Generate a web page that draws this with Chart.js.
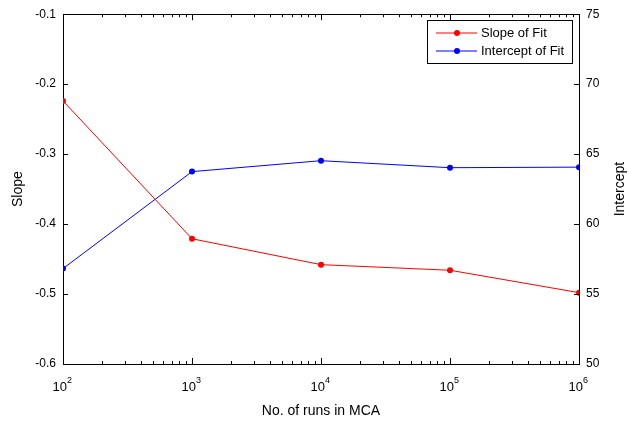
<!DOCTYPE html>
<html>
<head>
<meta charset="utf-8">
<script src="https://cdn.jsdelivr.net/npm/chart.js@4/dist/chart.umd.min.js"></script>
<style>
  body { margin: 0; background: #fff; }
  #wrap { width: 629px; height: 421px; }
</style>
</head>
<body>
<div id="wrap"><canvas id="plot" width="629" height="421"></canvas></div>
<script>
// data
var runs = [1e2, 1e3, 1e4, 1e5, 1e6];
var slopeVals = [-0.224, -0.421, -0.458, -0.466, -0.498];
var interceptVals = [56.82, 63.75, 64.53, 64.03, 64.07];
var seriesNames = ["Slope of Fit", "Intercept of Fit"];
var slopeTicks = [-0.6, -0.5, -0.4, -0.3, -0.2, -0.1];
var interceptTicks = [50, 55, 60, 65, 70, 75];
var xExponents = [2, 3, 4, 5, 6];

var fontFam = "'Liberation Sans', Arial, sans-serif";

function pts(xs, ys) {
  return xs.map(function (x, i) { return { x: x, y: ys[i] }; });
}

// inward ticks, box top, x labels with exponents, right title, legend
var matlabLook = {
  id: "matlabLook",
  afterDraw: function (chart) {
    var ctx = chart.ctx;
    var a = chart.chartArea;
    var xs = chart.scales.x, yl = chart.scales.y, yr = chart.scales.y2;
    ctx.save();
    ctx.strokeStyle = "#000";
    ctx.lineWidth = 1;
    ctx.beginPath();
    // top line of the box
    ctx.moveTo(a.left, Math.round(a.top) + 0.5);
    ctx.lineTo(a.right, Math.round(a.top) + 0.5);
    // x ticks bottom and top
    for (var e = 2; e <= 6; e++) {
      for (var m = 1; m <= 9; m++) {
        if (e == 6 && m > 1) break;
        var v = m * Math.pow(10, e);
        var px = Math.round(xs.getPixelForValue(v)) + 0.5;
        var len = m == 1 ? 6 : 3;
        ctx.moveTo(px, a.bottom); ctx.lineTo(px, a.bottom - len);
        ctx.moveTo(px, a.top); ctx.lineTo(px, a.top + len);
      }
    }
    slopeTicks.forEach(function (t) {
      var py = Math.round(yl.getPixelForValue(t)) + 0.5;
      ctx.moveTo(a.left, py); ctx.lineTo(a.left + 5, py);
    });
    interceptTicks.forEach(function (t) {
      var py = Math.round(yr.getPixelForValue(t)) + 0.5;
      ctx.moveTo(a.right, py); ctx.lineTo(a.right - 5, py);
    });
    ctx.stroke();

    // x tick labels: 10 with exponent
    ctx.fillStyle = "#000";
    ctx.textBaseline = "alphabetic";
    xExponents.forEach(function (k) {
      var x0 = xs.getPixelForValue(Math.pow(10, k));
      ctx.font = "13px " + fontFam;
      ctx.textAlign = "right";
      ctx.fillText("10", x0 + 4, a.bottom + 27);
      ctx.font = "9px " + fontFam;
      ctx.textAlign = "left";
      ctx.fillText(String(k), x0 + 4, a.bottom + 19);
    });

    // right axis title, reading bottom to top
    ctx.save();
    ctx.translate(620, (a.top + a.bottom) / 2);
    ctx.rotate(-Math.PI / 2);
    ctx.font = "14px " + fontFam;
    ctx.textAlign = "center";
    ctx.textBaseline = "middle";
    ctx.fillText("Intercept", 0, 0);
    ctx.restore();

    // legend
    var lx = 427, ly = 20, lw = 145, lh = 43;
    ctx.fillStyle = "#fff";
    ctx.fillRect(lx, ly, lw, lh);
    ctx.strokeStyle = "#000";
    ctx.strokeRect(lx + 0.5, ly + 0.5, lw, lh);
    chart.data.datasets.forEach(function (ds, i) {
      var yy = ly + 13 + i * 18;
      ctx.strokeStyle = ds.borderColor;
      ctx.beginPath();
      ctx.moveTo(lx + 9, yy); ctx.lineTo(lx + 50, yy);
      ctx.stroke();
      ctx.fillStyle = ds.borderColor;
      ctx.beginPath();
      ctx.arc(lx + 30, yy, 3, 0, Math.PI * 2);
      ctx.fill();
      ctx.fillStyle = "#000";
      ctx.font = "13px " + fontFam;
      ctx.textAlign = "left";
      ctx.textBaseline = "middle";
      ctx.fillText(ds.label, lx + 54, yy);
    });
    ctx.restore();
  }
};

var chart = new Chart(document.getElementById("plot"), {
  type: "line",
  data: {
    datasets: [
      {
        label: seriesNames[0],
        data: pts(runs, slopeVals),
        yAxisID: "y",
        borderColor: "#ff0000",
        backgroundColor: "#ff0000",
        borderWidth: 1,
        pointRadius: 3,
        pointBorderWidth: 0,
        tension: 0
      },
      {
        label: seriesNames[1],
        data: pts(runs, interceptVals),
        yAxisID: "y2",
        borderColor: "#0000ff",
        backgroundColor: "#0000ff",
        borderWidth: 1,
        pointRadius: 3,
        pointBorderWidth: 0,
        tension: 0
      }
    ]
  },
  options: {
    responsive: false,
    animation: false,
    layout: { padding: { top: 6, right: 0, left: 0, bottom: 0 } },
    plugins: { legend: { display: false }, tooltip: { enabled: false } },
    scales: {
      x: {
        type: "logarithmic",
        min: 1e2,
        max: 1e6,
        grid: { display: false, drawTicks: false },
        border: { display: true, color: "#000", width: 1 },
        ticks: { display: false },
        title: {
          display: true,
          text: "No. of runs in MCA",
          color: "#000",
          font: { family: fontFam, size: 14 },
          padding: { top: 0, bottom: 1 }
        },
        afterFit: function (s) { s.height = 57; }
      },
      y: {
        position: "left",
        min: -0.6,
        max: -0.1,
        grid: { display: false, drawTicks: false },
        border: { display: true, color: "#000", width: 1 },
        afterBuildTicks: function (s) {
          s.ticks = slopeTicks.map(function (t) { return { value: t }; });
        },
        ticks: {
          color: "#000",
          font: { family: fontFam, size: 12 },
          padding: 7,
          callback: function (v) { return v.toFixed(1); }
        },
        title: {
          display: true,
          text: "Slope",
          color: "#000",
          font: { family: fontFam, size: 14 },
          padding: { top: 10, bottom: 0 }
        },
        afterFit: function (s) { s.width = 63; }
      },
      y2: {
        position: "right",
        min: 50,
        max: 75,
        grid: { display: false, drawTicks: false },
        border: { display: true, color: "#000", width: 1 },
        afterBuildTicks: function (s) {
          s.ticks = interceptTicks.map(function (t) { return { value: t }; });
        },
        ticks: {
          color: "#000",
          font: { family: fontFam, size: 12 },
          padding: 7
        },
        afterFit: function (s) { s.width = 50; }
      }
    }
  },
  plugins: [matlabLook]
});
</script>
</body>
</html>
